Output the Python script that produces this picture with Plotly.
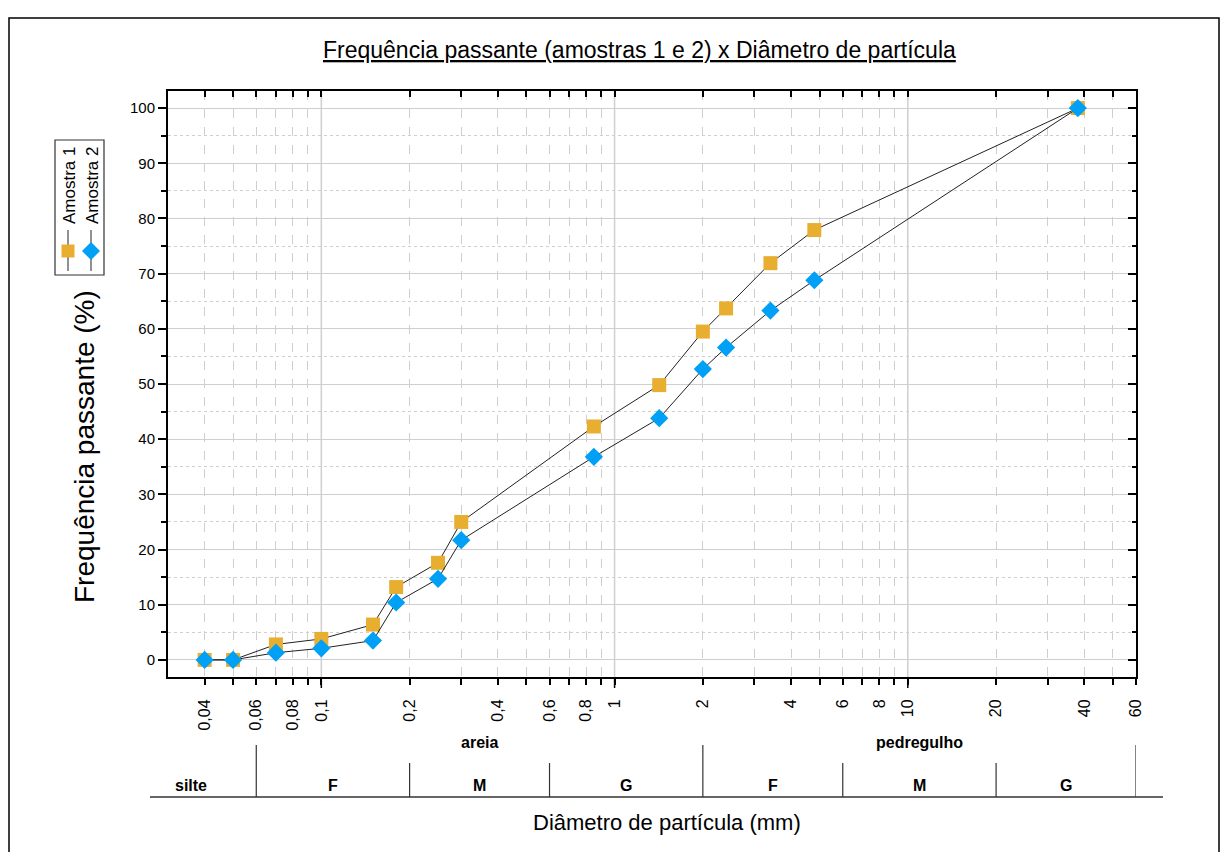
import numpy as np
import plotly.graph_objects as go

# ---------------- data ----------------
diametro = [0.04, 0.05, 0.07, 0.1, 0.15, 0.18, 0.25, 0.3, 0.85, 1.42, 2.0, 2.4, 3.4, 4.8, 38.0]
amostra1 = [0, 0, 2.8, 3.8, 6.4, 13.2, 17.6, 25.0, 42.3, 49.8, 59.5, 63.7, 71.9, 77.9, 100]
amostra2 = [0, 0, 1.3, 2.1, 3.5, 10.4, 14.7, 21.7, 36.8, 43.8, 52.7, 56.6, 63.3, 68.8, 100]

tick_vals = [0.04, 0.06, 0.08, 0.1, 0.2, 0.4, 0.6, 0.8, 1, 2, 4, 6, 8, 10, 20, 40, 60]
tick_text = ["0,04", "0,06", "0,08", "0,1", "0,2", "0,4", "0,6", "0,8", "1", "2", "4",
             "6", "8", "10", "20", "40", "60"]
minor_vals = [0.05, 0.07, 0.09, 0.3, 0.5, 0.7, 0.9, 3, 5, 7, 9, 30, 50]
decadas = [0.1, 1, 10]

limites = [0.06, 0.2, 0.6, 2, 6, 20, 60]          # class boundaries (mm)
limites_grupo = [0.06, 2, 60]                      # group boundaries (mm)
classes = ["F", "M", "G", "F", "M", "G"]
grupos = ["areia", "pedregulho"]
silte_pos = 0.036

x_range = [0.03, 60]
y_range = [-3.1, 103.1]

COR1 = "#E8AE30"
COR2 = "#00A0F6"
FONT = "Arial, Liberation Sans, sans-serif"
GRID = "#cfcfcf"

# layout geometry (pixels)
W, H = 1222, 852
ML, MR, MT, MB = 168, 86, 91, 175
PW, PH = W - ML - MR, H - MT - MB


def px_x(p):
    return (p - ML) / PW


def px_y(p):
    return (H - MB - p) / PH


fig = go.Figure()

fig.add_trace(go.Scatter(
    x=diametro, y=amostra1, mode="lines+markers", name="Amostra 1",
    line=dict(color="#222222", width=1),
    marker=dict(symbol="square", size=14, color=COR1, line=dict(width=0)),
    showlegend=False))
fig.add_trace(go.Scatter(
    x=diametro, y=amostra2, mode="lines+markers", name="Amostra 2",
    line=dict(color="#222222", width=1),
    marker=dict(symbol="diamond", size=14, color=COR2, line=dict(width=0)),
    showlegend=False))
# invisible trace to carry the mirrored (top/right) axes
fig.add_trace(go.Scatter(
    x=diametro, y=amostra1, xaxis="x2", yaxis="y2", mode="markers",
    marker=dict(opacity=0), hoverinfo="skip", showlegend=False))

lx = np.log10(x_range).tolist()

fig.update_layout(
    width=W, height=H,
    margin=dict(l=ML, r=MR, t=MT, b=MB),
    paper_bgcolor="white", plot_bgcolor="white",
    font=dict(family=FONT, color="black"),
    xaxis=dict(
        type="log", range=lx, tickmode="array", tickvals=tick_vals, ticktext=tick_text,
        tickangle=-90, tickfont=dict(size=16, family=FONT), ticks="outside", ticklen=6,
        tickwidth=1.5, tickcolor="black", ticklabelstandoff=8,
        showline=True, linecolor="black", linewidth=2,
        showgrid=True, gridcolor=GRID, gridwidth=1, griddash="dash",
        minor=dict(tickmode="array", tickvals=minor_vals, ticks="outside", ticklen=6,
                   tickwidth=1.5, tickcolor="black", showgrid=True, gridcolor=GRID,
                   griddash="dash", gridwidth=1),
        zeroline=False,
    ),
    yaxis=dict(
        range=y_range, tickmode="linear", tick0=0, dtick=10,
        tickfont=dict(size=15, family=FONT), ticks="outside", ticklen=8, tickwidth=1.5,
        tickcolor="black", showline=True, linecolor="black", linewidth=2,
        showgrid=True, gridcolor=GRID, gridwidth=1,
        minor=dict(dtick=5, ticks="outside", ticklen=5, tickwidth=1.5, tickcolor="black",
                   showgrid=True, gridcolor=GRID, griddash="dot", gridwidth=1),
        zeroline=False,
    ),
    xaxis2=dict(
        type="log", range=lx, overlaying="x", side="top", anchor="y2",
        tickmode="array", tickvals=tick_vals, showticklabels=False,
        ticks="inside", ticklen=6, tickwidth=1.5, tickcolor="black",
        minor=dict(tickmode="array", tickvals=minor_vals, ticks="inside", ticklen=6,
                   tickwidth=1.5, tickcolor="black", showgrid=False),
        showline=True, linecolor="black", linewidth=2, showgrid=False, zeroline=False,
    ),
    yaxis2=dict(
        range=y_range, overlaying="y", side="right", anchor="x2",
        tickmode="linear", tick0=0, dtick=10, showticklabels=False,
        ticks="inside", ticklen=8, tickwidth=1.5, tickcolor="black",
        minor=dict(dtick=5, ticks="inside", ticklen=4, tickwidth=1.5, tickcolor="black",
                   showgrid=False),
        showline=True, linecolor="black", linewidth=2, showgrid=False, zeroline=False,
    ),
)

shapes = []
# solid grid lines at decades + long decade ticks
for d in decadas:
    shapes.append(dict(type="line", xref="x", yref="paper", x0=d, x1=d, y0=0, y1=1,
                       line=dict(color=GRID, width=1.5), layer="between"))
    shapes.append(dict(type="line", xref="x", yref="paper", x0=d, x1=d, y0=0,
                       y1=-11 / PH, line=dict(color="black", width=1.5)))

# classification table below the axis
shapes.append(dict(type="line", xref="paper", yref="paper", x0=px_x(150), x1=px_x(1163),
                   y0=px_y(797), y1=px_y(797), line=dict(color="#333333", width=1.5)))
for b in limites:
    top = 745 if b in limites_grupo else 763
    shapes.append(dict(type="line", xref="x", yref="paper", x0=b, x1=b,
                       y0=px_y(797), y1=px_y(top), line=dict(color="#333333", width=1.2)))

# outer frame
shapes.append(dict(type="rect", xref="paper", yref="paper", x0=px_x(9), x1=px_x(1219),
                   y0=px_y(870), y1=px_y(18), line=dict(color="black", width=1.5)))

# legend box
shapes.append(dict(type="rect", xref="paper", yref="paper", x0=px_x(55), x1=px_x(104),
                   y0=px_y(275), y1=px_y(140), line=dict(color="#333333", width=1.2),
                   fillcolor="white"))
lg_x = [68, 91]
for cx in lg_x:
    shapes.append(dict(type="line", xref="paper", yref="paper", x0=px_x(cx), x1=px_x(cx),
                       y0=px_y(271), y1=px_y(230), line=dict(color="#222222", width=1)))
s = 6.5
shapes.append(dict(type="rect", xref="paper", yref="paper",
                   x0=px_x(lg_x[0] - s), x1=px_x(lg_x[0] + s),
                   y0=px_y(251 + s), y1=px_y(251 - s), line=dict(width=0), fillcolor=COR1))
dd = 9
cx, cy = lg_x[1], 251
path = "M {} {} L {} {} L {} {} L {} {} Z".format(
    px_x(cx - dd), px_y(cy), px_x(cx), px_y(cy - dd), px_x(cx + dd), px_y(cy),
    px_x(cx), px_y(cy + dd))
shapes.append(dict(type="path", xref="paper", yref="paper", path=path,
                   line=dict(width=0), fillcolor=COR2))

fig.update_layout(shapes=shapes)

ann = []
ann.append(dict(text="<u>Frequência passante (amostras 1 e 2) x Diâmetro de partícula</u>",
                xref="paper", yref="paper", x=px_x(639), y=px_y(50), showarrow=False,
                xanchor="center", yanchor="middle", font=dict(size=23, family=FONT)))
ann.append(dict(text="Frequência passante (%)", xref="paper", yref="paper",
                x=px_x(85), y=px_y(447), textangle=-90, showarrow=False,
                xanchor="center", yanchor="middle", font=dict(size=28, family=FONT)))
ann.append(dict(text="Diâmetro de partícula (mm)", xref="paper", yref="paper",
                x=px_x(667), y=px_y(822), showarrow=False, xanchor="center",
                yanchor="middle", font=dict(size=22, family=FONT)))
for name, cx in zip(["Amostra 1", "Amostra 2"], lg_x):
    ann.append(dict(text=name, xref="paper", yref="paper", x=px_x(cx + 1), y=px_y(186),
                    textangle=-90, showarrow=False, xanchor="center", yanchor="middle",
                    font=dict(size=17, family=FONT)))

# table labels
for g, a, b in zip(grupos, limites_grupo[:-1], limites_grupo[1:]):
    ann.append(dict(text="<b>" + g + "</b>", xref="x", yref="paper",
                    x=(np.log10(a) + np.log10(b)) / 2, y=px_y(742), showarrow=False,
                    xanchor="center", yanchor="middle", font=dict(size=16, family=FONT)))
for c, a, b in zip(classes, limites[:-1], limites[1:]):
    ann.append(dict(text="<b>" + c + "</b>", xref="x", yref="paper",
                    x=(np.log10(a) + np.log10(b)) / 2, y=px_y(785), showarrow=False,
                    xanchor="center", yanchor="middle", font=dict(size=16, family=FONT)))
ann.append(dict(text="<b>silte</b>", xref="x", yref="paper", x=np.log10(silte_pos),
                y=px_y(785), showarrow=False, xanchor="center", yanchor="middle",
                font=dict(size=16, family=FONT)))

fig.update_layout(annotations=ann)

fig.write_html("out.html")
